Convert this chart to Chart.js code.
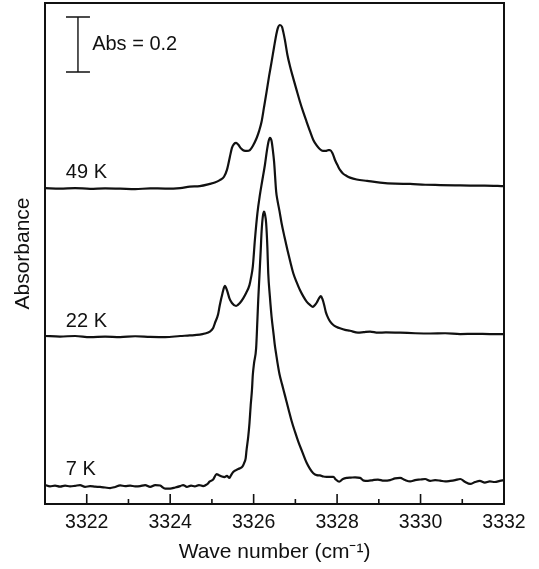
<!DOCTYPE html>
<html>
<head>
<meta charset="utf-8">
<script src="https://cdn.jsdelivr.net/npm/chart.js@4/dist/chart.umd.min.js"></script>
<style>
  html, body { margin: 0; padding: 0; background: #fff; }
  #wrap { width: 539px; height: 569px; }
</style>
</head>
<body>
<div id="wrap"><canvas id="c" width="539" height="569"></canvas></div>
<script>
// ---- Data (wave number in cm^-1, absorbance with vertical offsets) ----
const wn49 = [3321.00,3321.36,3321.72,3322.08,3322.44,3322.80,3323.16,3323.52,3323.88,3324.24,3324.47,3324.71,3324.95,3325.07,3325.19,3325.29,3325.36,3325.43,3325.48,3325.53,3325.58,3325.63,3325.70,3325.77,3325.84,3325.91,3325.98,3326.07,3326.13,3326.19,3326.25,3326.31,3326.37,3326.43,3326.49,3326.54,3326.58,3326.63,3326.68,3326.71,3326.75,3326.81,3326.87,3326.95,3327.03,3327.11,3327.19,3327.27,3327.35,3327.43,3327.51,3327.59,3327.66,3327.73,3327.79,3327.83,3327.89,3327.95,3328.02,3328.07,3328.14,3328.23,3328.31,3328.47,3328.72,3329.03,3329.39,3329.75,3330.11,3330.47,3330.83,3331.19,3331.54,3332.00];
const abs49 = [1.149,1.147,1.149,1.146,1.148,1.147,1.145,1.148,1.147,1.149,1.154,1.156,1.164,1.169,1.178,1.190,1.215,1.262,1.295,1.309,1.313,1.307,1.293,1.285,1.284,1.287,1.302,1.330,1.356,1.390,1.444,1.499,1.556,1.608,1.662,1.705,1.731,1.742,1.735,1.717,1.687,1.633,1.593,1.548,1.505,1.463,1.425,1.390,1.356,1.324,1.304,1.290,1.284,1.284,1.287,1.287,1.276,1.251,1.229,1.215,1.202,1.193,1.187,1.180,1.175,1.169,1.165,1.164,1.161,1.160,1.159,1.158,1.158,1.156];

const wn22 = [3321.00,3321.36,3321.72,3322.08,3322.44,3322.80,3323.16,3323.52,3323.88,3324.24,3324.47,3324.71,3324.83,3324.95,3325.03,3325.07,3325.15,3325.19,3325.25,3325.31,3325.36,3325.42,3325.48,3325.58,3325.67,3325.75,3325.82,3325.90,3325.94,3325.98,3326.03,3326.09,3326.15,3326.20,3326.27,3326.32,3326.36,3326.39,3326.43,3326.46,3326.49,3326.54,3326.57,3326.62,3326.67,3326.74,3326.81,3326.88,3326.95,3327.03,3327.11,3327.19,3327.27,3327.35,3327.42,3327.47,3327.51,3327.57,3327.61,3327.65,3327.69,3327.73,3327.79,3327.84,3327.91,3327.99,3328.07,3328.19,3328.31,3328.50,3328.64,3328.79,3328.98,3329.17,3329.51,3329.87,3330.23,3330.59,3330.95,3331.31,3331.66,3332.00];
const abs22 = [0.611,0.609,0.611,0.607,0.609,0.607,0.610,0.608,0.607,0.611,0.613,0.616,0.620,0.627,0.640,0.657,0.691,0.724,0.764,0.793,0.778,0.748,0.731,0.720,0.731,0.748,0.767,0.796,0.825,0.863,0.960,1.057,1.124,1.170,1.233,1.287,1.320,1.332,1.320,1.287,1.245,1.136,1.105,1.065,1.021,0.971,0.924,0.880,0.839,0.807,0.778,0.755,0.736,0.724,0.717,0.724,0.732,0.749,0.756,0.745,0.724,0.698,0.675,0.662,0.651,0.644,0.639,0.633,0.630,0.623,0.625,0.627,0.623,0.624,0.623,0.621,0.620,0.621,0.618,0.619,0.618,0.618];

const wn7 = [3321.00,3321.12,3321.24,3321.36,3321.48,3321.60,3321.72,3321.84,3321.96,3322.08,3322.20,3322.32,3322.44,3322.56,3322.68,3322.80,3322.92,3323.04,3323.16,3323.28,3323.40,3323.52,3323.64,3323.76,3323.88,3324.00,3324.12,3324.24,3324.31,3324.40,3324.50,3324.59,3324.69,3324.79,3324.88,3324.95,3325.03,3325.11,3325.17,3325.24,3325.30,3325.36,3325.42,3325.46,3325.51,3325.59,3325.67,3325.73,3325.77,3325.81,3325.83,3325.87,3325.90,3325.93,3325.96,3325.98,3326.01,3326.06,3326.09,3326.11,3326.14,3326.17,3326.19,3326.22,3326.25,3326.27,3326.30,3326.33,3326.35,3326.39,3326.43,3326.48,3326.51,3326.54,3326.57,3326.62,3326.68,3326.75,3326.84,3326.91,3326.99,3327.07,3327.17,3327.27,3327.35,3327.43,3327.51,3327.59,3327.67,3327.75,3327.83,3327.91,3327.97,3328.05,3328.14,3328.24,3328.33,3328.43,3328.55,3328.64,3328.74,3328.86,3328.98,3329.12,3329.27,3329.39,3329.51,3329.63,3329.75,3329.87,3329.99,3330.11,3330.23,3330.35,3330.47,3330.59,3330.71,3330.83,3330.95,3331.07,3331.19,3331.31,3331.42,3331.54,3331.66,3331.78,3331.90,3332.00];
const abs7 = [0.069,0.064,0.067,0.063,0.067,0.064,0.066,0.069,0.062,0.065,0.063,0.062,0.060,0.058,0.062,0.068,0.065,0.067,0.064,0.065,0.069,0.062,0.069,0.067,0.056,0.056,0.060,0.065,0.069,0.062,0.067,0.064,0.069,0.065,0.071,0.082,0.089,0.109,0.105,0.100,0.098,0.102,0.095,0.105,0.116,0.124,0.130,0.136,0.148,0.167,0.196,0.244,0.293,0.360,0.415,0.469,0.512,0.567,0.669,0.742,0.833,0.924,0.989,1.045,1.063,1.055,1.021,0.931,0.839,0.753,0.681,0.615,0.575,0.545,0.515,0.472,0.436,0.395,0.342,0.302,0.263,0.227,0.188,0.150,0.128,0.112,0.105,0.104,0.100,0.099,0.099,0.099,0.089,0.081,0.091,0.095,0.096,0.097,0.095,0.085,0.084,0.087,0.089,0.085,0.087,0.093,0.095,0.087,0.082,0.087,0.089,0.091,0.084,0.087,0.085,0.082,0.084,0.087,0.091,0.080,0.073,0.080,0.084,0.078,0.082,0.080,0.084,0.087];

const seriesLabels = ['49 K', '22 K', '7 K'];
const labelX = [3321.50, 3321.50, 3321.50];
const labelY = [1.204, 0.662, 0.124];

const xMajorTicks = [3322, 3324, 3326, 3328, 3330, 3332];
const xMinorTicks = [3321, 3323, 3325, 3327, 3329, 3331];

const scaleBarX = 3321.79;
const scaleBarY0 = 1.571;
const scaleBarSize = 0.2;
const scaleBarText = 'Abs = 0.2';
const scaleBarTextX = 3322.13;

// ---- Chart ----
const INK = '#111';
const FONT = "'Liberation Sans', Arial, Helvetica, sans-serif";

function pts(xs, ys) { return xs.map((x, i) => ({ x: x, y: ys[i] })); }

const overlay = {
  id: 'overlay',
  afterDraw(chart) {
    const { ctx, chartArea: a, scales: { x, y } } = chart;
    ctx.save();
    // frame
    ctx.strokeStyle = INK;
    ctx.lineWidth = 2;
    ctx.strokeRect(a.left, a.top, a.right - a.left, a.bottom - a.top);
    // inward ticks
    ctx.lineWidth = 1.6;
    xMajorTicks.forEach(v => {
      const px = x.getPixelForValue(v);
      ctx.beginPath(); ctx.moveTo(px, a.bottom); ctx.lineTo(px, a.bottom - 10); ctx.stroke();
    });
    xMinorTicks.forEach(v => {
      const px = x.getPixelForValue(v);
      ctx.beginPath(); ctx.moveTo(px, a.bottom); ctx.lineTo(px, a.bottom - 5); ctx.stroke();
    });
    // scale bar
    const bx = x.getPixelForValue(scaleBarX);
    const by0 = y.getPixelForValue(scaleBarY0);
    const by1 = y.getPixelForValue(scaleBarY0 + scaleBarSize);
    ctx.lineWidth = 1.4;
    ctx.beginPath();
    ctx.moveTo(bx, by0); ctx.lineTo(bx, by1);
    ctx.moveTo(bx - 12, by0); ctx.lineTo(bx + 12, by0);
    ctx.moveTo(bx - 12, by1); ctx.lineTo(bx + 12, by1);
    ctx.stroke();
    ctx.fillStyle = INK;
    ctx.font = '20px ' + FONT;
    ctx.textAlign = 'left';
    ctx.textBaseline = 'middle';
    ctx.fillText(scaleBarText, x.getPixelForValue(scaleBarTextX), y.getPixelForValue(scaleBarY0 + scaleBarSize / 2));
    // series labels
    seriesLabels.forEach((t, i) => {
      ctx.fillText(t, x.getPixelForValue(labelX[i]), y.getPixelForValue(labelY[i]));
    });
    ctx.restore();
  }
};

const ds = (label, xs, ys) => ({
  label: label,
  data: pts(xs, ys),
  borderColor: INK,
  borderWidth: 2.2,
  pointRadius: 0,
  fill: false,
  cubicInterpolationMode: 'monotone'
});

new Chart(document.getElementById('c'), {
  type: 'line',
  data: {
    datasets: [
      ds(seriesLabels[0], wn49, abs49),
      ds(seriesLabels[1], wn22, abs22),
      ds(seriesLabels[2], wn7, abs7)
    ]
  },
  options: {
    responsive: false,
    animation: false,
    layout: { padding: { top: 3, right: 35, left: 0, bottom: 0 } },
    plugins: { legend: { display: false }, tooltip: { enabled: false } },
    scales: {
      x: {
        type: 'linear',
        min: 3321, max: 3332,
        afterBuildTicks: (s) => { s.ticks = xMajorTicks.map(v => ({ value: v })); },
        afterFit: (s) => { s.height = 65; },
        grid: { display: false, drawTicks: false },
        border: { display: false },
        ticks: { color: INK, padding: 7, font: { family: FONT, size: 19.5 }, maxRotation: 0, autoSkip: false,
                 callback: (v) => String(v) },
        title: { display: true, text: 'Wave number (cm⁻¹)', color: INK,
                 font: { family: FONT, size: 21 }, padding: { top: 0, bottom: 4 } }
      },
      y: {
        type: 'linear',
        min: 0, max: 1.822,
        afterFit: (s) => { s.width = 45; },
        grid: { display: false, drawTicks: false },
        border: { display: false },
        ticks: { display: false },
        title: { display: true, text: 'Absorbance', color: INK,
                 font: { family: FONT, size: 21 }, padding: { top: 11, bottom: 0 } }
      }
    }
  },
  plugins: [overlay]
});
</script>
</body>
</html>
